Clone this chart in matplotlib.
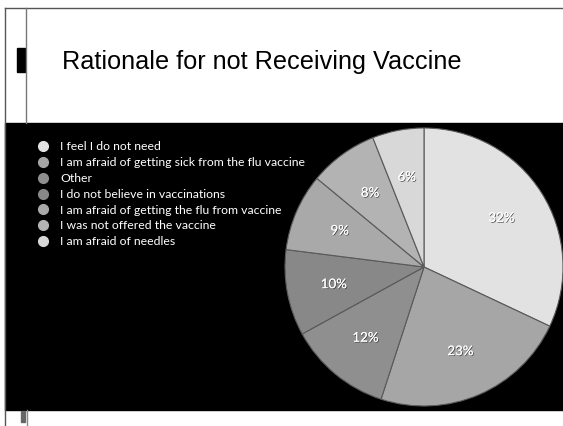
import matplotlib
matplotlib.use("Agg")
import matplotlib.pyplot as plt
from matplotlib.patches import Rectangle
from matplotlib.lines import Line2D
import matplotlib.patheffects as pe

title = "Rationale for not Receiving Vaccine"
categories = [
    "I feel I do not need",
    "I am afraid of getting sick from the flu vaccine",
    "Other",
    "I do not believe in vaccinations",
    "I am afraid of getting the flu from vaccine",
    "I was not offered the vaccine",
    "I am afraid of needles",
]
values = [32, 23, 12, 10, 9, 8, 6]
colors = ["#e2e2e2", "#a6a6a6", "#8f8f8f", "#888888", "#a9a9a9", "#b3b3b3", "#d8d8d8"]

W, H = 563, 426
fig = plt.figure(figsize=(W / 100, H / 100), dpi=100)
fig.patch.set_facecolor("white")
ax = fig.add_axes([0, 0, 1, 1])

def Y(y):
    return H - y

# slide frame
ax.add_line(Line2D([5, W], [Y(8), Y(8)], color="#555555", lw=1.0))
ax.add_line(Line2D([5, 5], [Y(8), Y(426)], color="#555555", lw=1.0))
ax.add_line(Line2D([25.5, 25.5], [Y(8), Y(123)], color="#777777", lw=1.0))
ax.add_patch(Rectangle((17, Y(72)), 8, 24, color="black"))
# black panel
ax.add_patch(Rectangle((5, Y(410)), W - 5, 287, color="black", zorder=1))
# bottom marks
ax.add_line(Line2D([27, 27], [Y(410), Y(426)], color="#888888", lw=1.0))
ax.add_patch(Rectangle((20.5, Y(422)), 4.5, 11, color="#666666"))

ax.text(62, Y(62), title, fontsize=18.2, family="Liberation Sans", color="black",
        va="center", ha="left")

wedges, texts = ax.pie(values, colors=colors, startangle=90, counterclock=False,
                       center=(424, Y(267)), radius=139, labels=[f"{v}%" for v in values],
                       labeldistance=0.66, frame=True,
                       wedgeprops=dict(edgecolor="#5a5a5a", linewidth=0.8),
                       textprops=dict(color="white", fontsize=9.6, family="Lato"))
for w in wedges:
    w.set_zorder(2)
for t in texts:
    t.set_zorder(3)
    t.set_ha("center")
    t.set_va("center")
    t.set_path_effects([pe.withSimplePatchShadow(offset=(0.6, -0.6), shadow_rgbFace="#333333", alpha=0.8),
                        pe.Normal()])

handles = [Line2D([], [], marker="o", linestyle="none", markersize=7,
                  markerfacecolor=c, markeredgecolor=c) for c in colors]
leg = ax.legend(handles, categories, loc="upper left", bbox_to_anchor=(37 / W, 1 - 141.5 / H),
                frameon=False, labelcolor="white", handlelength=1.0, handletextpad=0.89,
                labelspacing=0.39, borderpad=0, borderaxespad=0,
                prop=dict(family="Lato", size=8.8))
leg.set_zorder(5)

ax.set_xlim(0, W)
ax.set_ylim(0, H)
ax.set_aspect("auto")
ax.axis("off")
fig.savefig("out.png", dpi=100, facecolor="white")
